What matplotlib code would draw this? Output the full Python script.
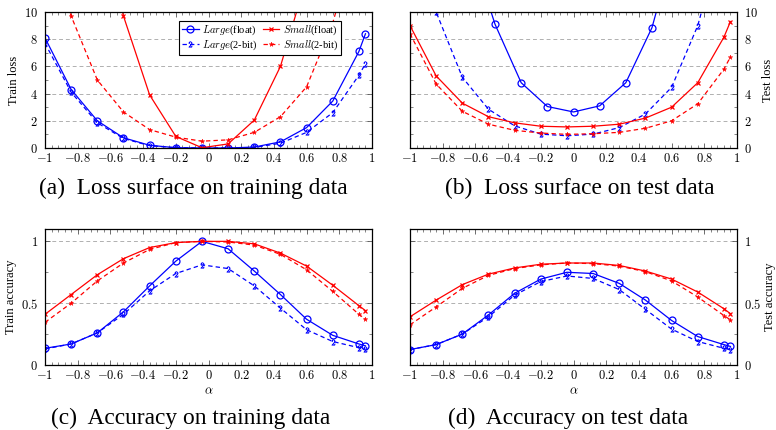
#!/usr/bin/env python3
"""Loss surfaces and accuracy curves along alpha, for Large/Small nets (float vs 2-bit)."""

import matplotlib

matplotlib.use("Agg")
import matplotlib.pyplot as plt
from matplotlib.ticker import FuncFormatter, MultipleLocator

plt.rcParams["font.family"] = ["Liberation Serif", "DejaVu Serif"]
plt.rcParams["mathtext.fontset"] = "cm"

# marker positions along alpha
alpha = [-1.0, -0.84, -0.68, -0.52, -0.36, -0.2, -0.04, 0.12, 0.28, 0.44, 0.6, 0.76, 0.92, 0.96]
alpha_c = [-0.52, -0.48, -0.32, -0.16, 0.0, 0.16, 0.32, 0.48, 0.52]

# (a) train loss
train_loss_large_f = [8.1, 4.3, 2.0, 0.75, 0.2, 0.02, 0.0, 0.0, 0.07, 0.45, 1.5, 3.45, 7.1, 8.4]
train_loss_large_q = [7.7, 4.1, 1.85, 0.7, 0.17, 0.02, 0.0, 0.0, 0.04, 0.35, 1.15, 2.6, 5.35, 6.2]
train_loss_small_f = [40.0, 30.0, 18.0, 9.7, 3.9, 0.85, 0.02, 0.3, 2.05, 6.0, 12.5, 22.0, 35.0, 40.0]
train_loss_small_q = [16.0, 9.7, 5.0, 2.65, 1.35, 0.8, 0.5, 0.6, 1.15, 2.3, 4.5, 9.2, 16.0, 18.0]

# (b) test loss
test_loss_large_f = [10.6, 9.1, 4.8, 3.05, 2.65, 3.1, 4.8, 8.85, 10.6]
test_loss_large_q = [16.0, 10.0, 5.2, 2.85, 1.63, 1.02, 0.9, 1.02, 1.5, 2.5, 4.46, 9.0, 16.0, 18.0]
test_loss_small_f = [9.0, 5.3, 3.3, 2.3, 1.85, 1.6, 1.55, 1.6, 1.75, 2.2, 3.0, 4.8, 8.15, 9.3]
test_loss_small_q = [8.4, 4.7, 2.7, 1.75, 1.3, 1.1, 1.0, 1.05, 1.15, 1.45, 2.0, 3.25, 5.8, 6.7]

# (c) train accuracy
train_acc_large_f = [0.135, 0.17, 0.26, 0.43, 0.64, 0.84, 1.0, 0.94, 0.76, 0.57, 0.37, 0.24, 0.17, 0.155]
train_acc_large_q = [0.13, 0.17, 0.26, 0.41, 0.60, 0.74, 0.81, 0.78, 0.64, 0.46, 0.285, 0.19, 0.14, 0.13]
train_acc_small_f = [0.41, 0.57, 0.73, 0.86, 0.95, 0.99, 1.0, 1.0, 0.98, 0.905, 0.80, 0.645, 0.48, 0.44]
train_acc_small_q = [0.345, 0.50, 0.68, 0.825, 0.935, 0.99, 1.0, 0.995, 0.97, 0.895, 0.77, 0.595, 0.41, 0.37]

# (d) test accuracy
test_acc_large_f = [0.125, 0.165, 0.25, 0.405, 0.58, 0.695, 0.75, 0.74, 0.66, 0.525, 0.36, 0.23, 0.165, 0.15]
test_acc_large_q = [0.125, 0.165, 0.25, 0.39, 0.565, 0.675, 0.72, 0.70, 0.61, 0.45, 0.29, 0.19, 0.135, 0.125]
test_acc_small_f = [0.39, 0.525, 0.65, 0.735, 0.785, 0.815, 0.825, 0.825, 0.805, 0.76, 0.695, 0.59, 0.455, 0.415]
test_acc_small_q = [0.325, 0.47, 0.62, 0.725, 0.78, 0.81, 0.825, 0.82, 0.80, 0.755, 0.68, 0.55, 0.40, 0.365]

captions = [
    "(a)  Loss surface on training data",
    "(b)  Loss surface on test data",
    "(c)  Accuracy on training data",
    "(d)  Accuracy on test data",
]

BLUE = (0, 0, 1)
RED = (1, 0, 0)
LW = 0.9

STYLE = {
    "large_f": dict(color=BLUE, ls="-", marker="o", ms=5, mfc="none", mew=0.9, label=r"$Large$(float)"),
    "large_q": dict(color=BLUE, ls=(0, (3.5, 2.5)), marker=r"$2$", ms=4, mew=0.3, label=r"$Large$(2-bit)"),
    "small_f": dict(color=RED, ls="-", marker="x", ms=3.5, mew=0.9, label=r"$Small$(float)"),
    "small_q": dict(color=RED, ls=(0, (3.5, 2.5)), marker="*", ms=3.5, mew=0.3, label=r"$Small$(2-bit)"),
}


def fmt(v, _):
    v = round(v, 6)
    if v == 0:
        return "$0$"
    s = f"{abs(v):g}"
    return f"$-{s}$" if v < 0 else f"${s}$"


def style_axes(ax, ymax, ymajor, yminor, right=False):
    ax.set_xlim(-1, 1)
    ax.set_ylim(0, ymax)
    ax.xaxis.set_major_locator(MultipleLocator(0.2))
    ax.xaxis.set_minor_locator(MultipleLocator(0.04))
    ax.yaxis.set_major_locator(MultipleLocator(ymajor))
    ax.yaxis.set_minor_locator(MultipleLocator(yminor))
    ax.xaxis.set_major_formatter(FuncFormatter(fmt))
    ax.yaxis.set_major_formatter(FuncFormatter(fmt))
    ax.tick_params(which="both", direction="in", top=True, right=True, labelsize=9, color="#555555")
    ax.tick_params(axis="x", pad=3)
    ax.tick_params(axis="y", pad=5)
    ax.tick_params(which="major", length=3.5, width=0.6)
    ax.tick_params(which="minor", length=2.0, width=0.5)
    if right:
        ax.yaxis.set_label_position("right")
        ax.tick_params(labelleft=False, labelright=True)
    ax.grid(axis="y", which="major", color="#b0b0b0", ls=(0, (4, 3)), lw=0.7)
    for sp in ax.spines.values():
        sp.set_linewidth(0.9)


def draw(ax, xs, ys, key):
    ax.plot(xs, ys, lw=LW, **STYLE[key])


fig = plt.figure(figsize=(7.76, 4.30), dpi=100)
W, H = 776, 430


def add_ax(x0, y_top, w=327, h=136):
    return fig.add_axes([x0 / W, 1 - (y_top + h) / H, w / W, h / H])


ax_a = add_ax(45, 12)
ax_b = add_ax(410, 12)
ax_c = add_ax(45, 229)
ax_d = add_ax(410, 229)

draw(ax_a, alpha, train_loss_large_f, "large_f")
draw(ax_a, alpha, train_loss_large_q, "large_q")
draw(ax_a, alpha, train_loss_small_f, "small_f")
draw(ax_a, alpha, train_loss_small_q, "small_q")

draw(ax_b, alpha_c, test_loss_large_f, "large_f")
draw(ax_b, alpha, test_loss_large_q, "large_q")
draw(ax_b, alpha, test_loss_small_f, "small_f")
draw(ax_b, alpha, test_loss_small_q, "small_q")

draw(ax_c, alpha, train_acc_large_f, "large_f")
draw(ax_c, alpha, train_acc_large_q, "large_q")
draw(ax_c, alpha, train_acc_small_f, "small_f")
draw(ax_c, alpha, train_acc_small_q, "small_q")

draw(ax_d, alpha, test_acc_large_f, "large_f")
draw(ax_d, alpha, test_acc_large_q, "large_q")
draw(ax_d, alpha, test_acc_small_f, "small_f")
draw(ax_d, alpha, test_acc_small_q, "small_q")

style_axes(ax_a, 10, 2, 1)
style_axes(ax_b, 10, 2, 1, right=True)
style_axes(ax_c, 1.1, 0.5, 0.25)
style_axes(ax_d, 1.1, 0.5, 0.25, right=True)

ax_a.set_ylabel("Train loss", fontsize=9, labelpad=3)
ax_b.set_ylabel("Test loss", fontsize=9, labelpad=3)
ax_c.set_ylabel("Train accuracy", fontsize=9, labelpad=3)
ax_d.set_ylabel("Test accuracy", fontsize=9, labelpad=2)
ax_c.set_xlabel(r"$\alpha$", fontsize=9, labelpad=2)
ax_d.set_xlabel(r"$\alpha$", fontsize=9, labelpad=2)

handles = [ax_a.lines[i] for i in (0, 1, 2, 3)]
leg = ax_a.legend(
    handles,
    [h.get_label() for h in handles],
    ncol=2,
    loc="upper right",
    bbox_to_anchor=(0.922, 0.975),
    fontsize=7.5,
    frameon=True,
    fancybox=False,
    framealpha=1,
    edgecolor="black",
    handlelength=1.6,
    handletextpad=0.35,
    columnspacing=0.5,
    borderpad=0.3,
    labelspacing=0.15,
)
leg.get_frame().set_linewidth(0.8)

for (cx, cy), text in zip([(193, 188), (580, 188), (191, 418), (568, 418)], captions):
    fig.text(cx / W, 1 - cy / H, text, fontsize=16.8, ha="center", va="center")

fig.savefig("out.png", dpi=100)
